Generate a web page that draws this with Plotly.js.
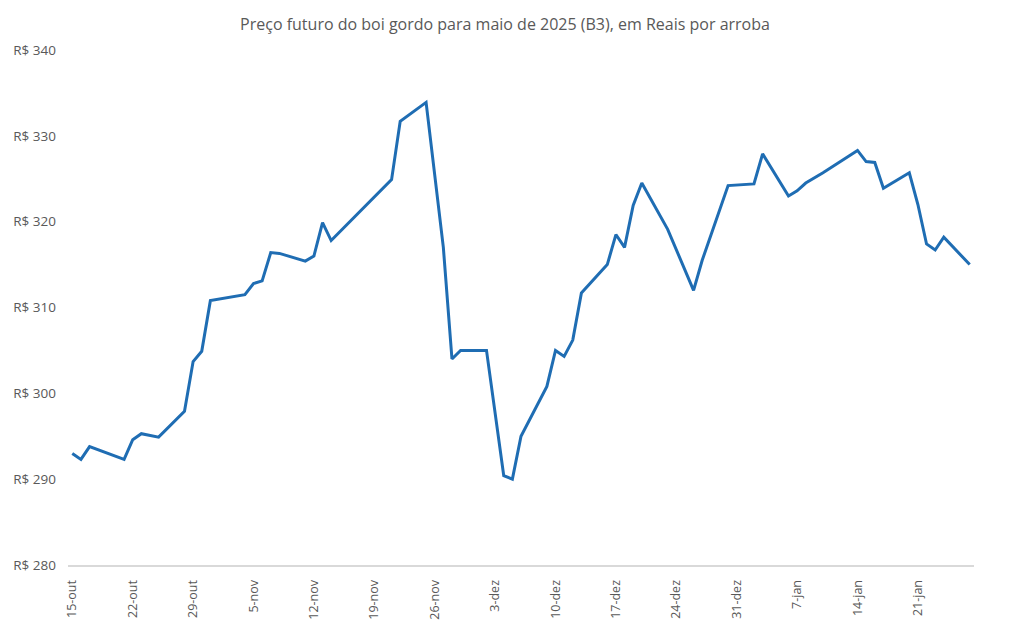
<!DOCTYPE html>
<html>
<head>
<meta charset="utf-8">
<script src="https://cdn.plot.ly/plotly-3.0.1.min.js"></script>
<style>
  html, body { margin: 0; padding: 0; background: #ffffff; }
  #chart { width: 1010px; height: 629px; }
</style>
</head>
<body>
<div id="chart"></div>
<script>
// Trading days and settlement prices (R$ per arroba), B3 live cattle, May 2025 contract
const dates = [
  '2024-10-15', '2024-10-16', '2024-10-17', '2024-10-21', '2024-10-22', '2024-10-23',
  '2024-10-25', '2024-10-28', '2024-10-29', '2024-10-30', '2024-10-31', '2024-11-04',
  '2024-11-05', '2024-11-06', '2024-11-07', '2024-11-08', '2024-11-11', '2024-11-12',
  '2024-11-13', '2024-11-14', '2024-11-21', '2024-11-22', '2024-11-25', '2024-11-26',
  '2024-11-27', '2024-11-28', '2024-11-29', '2024-12-02', '2024-12-03', '2024-12-04',
  '2024-12-05', '2024-12-06', '2024-12-09', '2024-12-10', '2024-12-11', '2024-12-12',
  '2024-12-13', '2024-12-16', '2024-12-17', '2024-12-18', '2024-12-19', '2024-12-20',
  '2024-12-23', '2024-12-26', '2024-12-27', '2024-12-30', '2025-01-02', '2025-01-03',
  '2025-01-06', '2025-01-07', '2025-01-08', '2025-01-10', '2025-01-14', '2025-01-15',
  '2025-01-16', '2025-01-17', '2025-01-20', '2025-01-21', '2025-01-22', '2025-01-23',
  '2025-01-24', '2025-01-27'
];
const prices = [
  293.0, 292.3, 293.8, 292.3, 294.6, 295.3,
  294.9, 297.9, 303.7, 304.9, 310.8, 311.5,
  312.8, 313.1, 316.4, 316.3, 315.4, 316.0,
  319.9, 317.8, 324.9, 331.7, 333.9, 325.8,
  317.0, 304.0, 305.0, 305.0, 297.8, 290.4,
  290.0, 295.0, 300.8, 305.0, 304.3, 306.2,
  311.7, 315.0, 318.5, 317.0, 321.9, 324.5,
  319.1, 312.0, 315.5, 324.2, 324.4, 327.9,
  323.0, 323.6, 324.5, 325.7, 328.3, 327.0,
  326.9, 323.9, 325.7, 322.0, 317.4, 316.7,
  318.2, 315.0
];

// Weekly axis ticks
const tickDates = [
  '2024-10-15', '2024-10-22', '2024-10-29', '2024-11-05', '2024-11-12',
  '2024-11-19', '2024-11-26', '2024-12-03', '2024-12-10', '2024-12-17',
  '2024-12-24', '2024-12-31', '2025-01-07', '2025-01-14', '2025-01-21'
];
const tickLabels = [
  '15-out', '22-out', '29-out', '5-nov', '12-nov',
  '19-nov', '26-nov', '3-dez', '10-dez', '17-dez',
  '24-dez', '31-dez', '7-jan', '14-jan', '21-jan'
];
const priceTicks = [280, 290, 300, 310, 320, 330, 340];

const textGray = '#595959';
const fontFamily = '"Open Sans", "Noto Sans", sans-serif';

const trace = {
  type: 'scatter',
  mode: 'lines',
  x: dates,
  y: prices,
  line: { color: '#1f6db3', width: 3 },
  hoverinfo: 'skip'
};

const layout = {
  width: 1010,
  height: 629,
  margin: { l: 68, r: 36, t: 50, b: 64 },
  paper_bgcolor: '#ffffff',
  plot_bgcolor: '#ffffff',
  showlegend: false,
  title: {
    text: 'Preço futuro do boi gordo para maio de 2025 (B3), em Reais por arroba',
    font: { family: fontFamily, size: 16, color: textGray },
    x: 0.5,
    xanchor: 'center',
    y: 0.962,
    yanchor: 'middle'
  },
  xaxis: {
    type: 'date',
    range: ['2024-10-14 12:00', '2025-01-27 12:00'],
    tickmode: 'array',
    tickvals: tickDates,
    ticktext: tickLabels,
    tickangle: -90,
    tickfont: { family: fontFamily, size: 12.5, color: textGray },
    showgrid: false,
    zeroline: false,
    showline: true,
    linecolor: '#d9d9d9',
    linewidth: 2,
    ticks: '',
    ticklabelstandoff: 8,
    fixedrange: true
  },
  yaxis: {
    range: [280, 340],
    tickmode: 'array',
    tickvals: priceTicks,
    ticktext: priceTicks.map(v => 'R$ ' + v),
    tickfont: { family: fontFamily, size: 13.5, color: textGray },
    showgrid: false,
    zeroline: false,
    showline: false,
    ticks: '',
    ticklabelstandoff: 11,
    fixedrange: true
  }
};

Plotly.newPlot('chart', [trace], layout, { displayModeBar: false, staticPlot: true });
</script>
</body>
</html>
